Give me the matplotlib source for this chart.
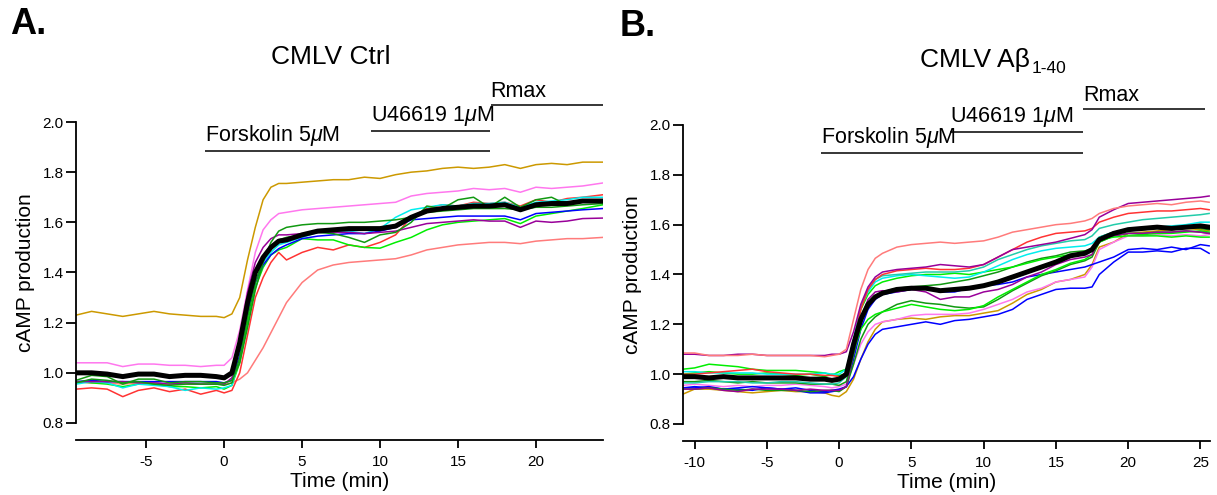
import numpy as np
import matplotlib
matplotlib.use("Agg")
import matplotlib.pyplot as plt

plt.rcParams['font.family'] = ['Liberation Sans', 'DejaVu Sans']
plt.rcParams['mathtext.fontset'] = 'custom'
plt.rcParams['mathtext.rm'] = 'Liberation Sans'
plt.rcParams['mathtext.it'] = 'Liberation Sans:italic'
plt.rcParams['axes.unicode_minus'] = False  # plain hyphen for negative ticks

# ---------------- panel A : CMLV Ctrl ----------------
t_ctrl = [-9.5, -8.5, -7.5, -6.5, -5.5, -4.5, -3.5, -2.5, -1.5, -0.5, 0,
          0.5, 1, 1.5, 2, 2.5, 3, 3.5, 4,
          5, 6, 7, 8, 9, 10, 11, 12, 13, 14, 15, 16, 17, 18, 19, 20, 21, 22, 23, 24.3]

ctrl_gold = [1.23, 1.245, 1.235, 1.225, 1.235, 1.245, 1.235, 1.23, 1.225, 1.225, 1.22,
             1.235, 1.30, 1.45, 1.58, 1.69, 1.74, 1.755, 1.755,
             1.76, 1.765, 1.77, 1.77, 1.78, 1.775, 1.79, 1.80, 1.805, 1.815, 1.82, 1.815, 1.82, 1.83, 1.815, 1.83, 1.835, 1.83, 1.84, 1.84]
ctrl_pink = [1.04, 1.04, 1.04, 1.025, 1.035, 1.035, 1.03, 1.03, 1.025, 1.03, 1.03,
             1.06, 1.17, 1.33, 1.48, 1.57, 1.61, 1.635, 1.64,
             1.65, 1.655, 1.66, 1.665, 1.67, 1.675, 1.68, 1.705, 1.715, 1.72, 1.725, 1.735, 1.73, 1.735, 1.72, 1.74, 1.735, 1.74, 1.745, 1.757]
ctrl_dgreen1 = [0.97, 0.99, 0.985, 0.955, 0.975, 0.975, 0.96, 0.965, 0.965, 0.96, 0.96,
                0.97, 1.04, 1.18, 1.33, 1.44, 1.52, 1.565, 1.58,
                1.59, 1.595, 1.595, 1.60, 1.60, 1.605, 1.61, 1.62, 1.64, 1.645, 1.65, 1.655, 1.655, 1.655, 1.65, 1.66, 1.66, 1.665, 1.67, 1.675]
ctrl_dgreen2 = [0.96, 0.975, 0.97, 0.96, 0.965, 0.955, 0.95, 0.955, 0.955, 0.955, 0.95,
                0.96, 1.06, 1.22, 1.36, 1.45, 1.50, 1.53, 1.54,
                1.55, 1.56, 1.555, 1.54, 1.52, 1.55, 1.56, 1.60, 1.665, 1.655, 1.69, 1.70, 1.66, 1.70, 1.66, 1.69, 1.70, 1.67, 1.69, 1.675]
ctrl_purple = [0.965, 0.965, 0.965, 0.965, 0.96, 0.96, 0.955, 0.96, 0.955, 0.955, 0.955,
               0.98, 1.12, 1.32, 1.44, 1.50, 1.535, 1.55, 1.55,
               1.555, 1.56, 1.56, 1.56, 1.555, 1.56, 1.565, 1.58, 1.595, 1.60, 1.605, 1.61, 1.605, 1.605, 1.58, 1.605, 1.60, 1.605, 1.615, 1.617]
ctrl_blue = [0.965, 0.97, 0.965, 0.965, 0.965, 0.965, 0.965, 0.965, 0.965, 0.965, 0.96,
             0.97, 1.07, 1.24, 1.36, 1.43, 1.47, 1.495, 1.51,
             1.535, 1.545, 1.55, 1.555, 1.555, 1.565, 1.58, 1.61, 1.615, 1.62, 1.625, 1.625, 1.625, 1.625, 1.61, 1.635, 1.64, 1.645, 1.65, 1.655]
ctrl_cyan = [0.955, 0.965, 0.96, 0.94, 0.955, 0.95, 0.945, 0.93, 0.94, 0.935, 0.94,
             0.95, 1.06, 1.23, 1.36, 1.44, 1.48, 1.51, 1.52,
             1.54, 1.56, 1.565, 1.565, 1.555, 1.575, 1.62, 1.65, 1.66, 1.67, 1.665, 1.675, 1.675, 1.68, 1.66, 1.68, 1.685, 1.69, 1.70, 1.70]
ctrl_lime = [0.965, 0.96, 0.955, 0.945, 0.955, 0.955, 0.945, 0.945, 0.94, 0.945, 0.935,
             0.95, 1.04, 1.20, 1.34, 1.42, 1.47, 1.49, 1.50,
             1.535, 1.53, 1.53, 1.51, 1.50, 1.497, 1.52, 1.54, 1.57, 1.59, 1.60, 1.605, 1.61, 1.615, 1.595, 1.625, 1.635, 1.645, 1.655, 1.67]
ctrl_red = [0.935, 0.94, 0.935, 0.905, 0.93, 0.94, 0.925, 0.935, 0.915, 0.93, 0.92,
            0.93, 1.00, 1.15, 1.30, 1.38, 1.44, 1.48, 1.45,
            1.48, 1.50, 1.49, 1.51, 1.50, 1.52, 1.55, 1.62, 1.655, 1.67, 1.665, 1.68, 1.675, 1.68, 1.665, 1.69, 1.68, 1.695, 1.70, 1.71]
ctrl_salmon = [0.965, 0.96, 0.96, 0.955, 0.96, 0.96, 0.955, 0.955, 0.955, 0.955, 0.955,
               0.96, 0.975, 1.00, 1.05, 1.10, 1.16, 1.22, 1.28,
               1.36, 1.41, 1.43, 1.44, 1.445, 1.45, 1.455, 1.47, 1.49, 1.50, 1.51, 1.515, 1.52, 1.52, 1.515, 1.525, 1.53, 1.535, 1.535, 1.54]
ctrl_mean = [1.0, 1.0, 0.995, 0.985, 0.995, 0.995, 0.985, 0.99, 0.99, 0.985, 0.98,
             1.0, 1.12, 1.28, 1.40, 1.46, 1.50, 1.525, 1.53,
             1.55, 1.565, 1.57, 1.575, 1.575, 1.575, 1.585, 1.62, 1.645, 1.655, 1.66, 1.665, 1.665, 1.67, 1.65, 1.67, 1.675, 1.675, 1.685, 1.685]

# ---------------- panel B : CMLV Abeta 1-40 ----------------
t_abeta = [-10.8, -10, -9, -8, -7, -6, -5, -4, -3, -2, -1, -0.5, 0,
           0.5, 1, 1.5, 2, 2.5, 3,
           4, 5, 6, 7, 8, 9, 10, 11, 12, 13, 14, 15, 16, 17, 17.5, 18, 19, 20, 21, 22, 23, 24, 25, 25.6]

ab_salmon = [1.085, 1.085, 1.075, 1.075, 1.075, 1.08, 1.075, 1.075, 1.075, 1.075, 1.07, 1.075, 1.08,
             1.10, 1.22, 1.34, 1.42, 1.465, 1.485,
             1.51, 1.52, 1.525, 1.53, 1.525, 1.53, 1.535, 1.55, 1.57, 1.58, 1.59, 1.60, 1.605, 1.615, 1.625, 1.645, 1.665, 1.675, 1.68, 1.685, 1.68, 1.69, 1.695, 1.69]
ab_purple1 = [1.08, 1.08, 1.075, 1.075, 1.08, 1.08, 1.075, 1.075, 1.075, 1.075, 1.075, 1.08, 1.08,
              1.09, 1.17, 1.28, 1.35, 1.39, 1.41,
              1.42, 1.425, 1.43, 1.44, 1.435, 1.43, 1.44, 1.47, 1.50, 1.51, 1.52, 1.53, 1.545, 1.56, 1.58, 1.63, 1.66, 1.685, 1.69, 1.695, 1.70, 1.705, 1.71, 1.715]
ab_red = [1.0, 1.0, 1.005, 1.01, 1.015, 1.02, 1.01, 1.005, 1.0, 1.0, 0.995, 0.995, 0.99,
          1.0, 1.12, 1.26, 1.34, 1.38, 1.40,
          1.415, 1.42, 1.425, 1.42, 1.42, 1.425, 1.44, 1.47, 1.50, 1.53, 1.55, 1.565, 1.57, 1.575, 1.585, 1.61, 1.63, 1.645, 1.65, 1.655, 1.655, 1.66, 1.665, 1.66]
ab_turq = [0.965, 0.965, 0.97, 0.97, 0.97, 0.965, 0.965, 0.97, 0.97, 0.965, 0.96, 0.96, 0.965,
           0.99, 1.13, 1.27, 1.34, 1.38, 1.395,
           1.40, 1.405, 1.41, 1.41, 1.41, 1.415, 1.43, 1.46, 1.48, 1.50, 1.515, 1.525, 1.535, 1.54, 1.555, 1.585, 1.60, 1.61, 1.62, 1.625, 1.63, 1.635, 1.64, 1.645]
ab_cyan = [1.01, 1.01, 1.005, 1.005, 1.005, 1.005, 1.0, 1.0, 1.0, 1.0, 1.005, 1.0, 1.0,
           1.02, 1.14, 1.27, 1.33, 1.37, 1.385,
           1.395, 1.40, 1.395, 1.39, 1.385, 1.39, 1.41, 1.435, 1.46, 1.48, 1.495, 1.505, 1.51, 1.515, 1.525, 1.55, 1.57, 1.58, 1.585, 1.59, 1.595, 1.60, 1.61, 1.61]
ab_lime1 = [1.02, 1.025, 1.04, 1.035, 1.03, 1.02, 1.015, 1.015, 1.015, 1.01, 1.005, 0.995, 1.01,
            1.02, 1.13, 1.26, 1.32, 1.355, 1.37,
            1.385, 1.395, 1.40, 1.40, 1.405, 1.40, 1.41, 1.42, 1.43, 1.445, 1.46, 1.47, 1.48, 1.485, 1.50, 1.54, 1.55, 1.555, 1.555, 1.555, 1.55, 1.555, 1.55, 1.55]
ab_lime2 = [1.0, 1.005, 1.01, 1.005, 1.0, 1.0, 1.005, 1.0, 0.995, 1.0, 0.99, 1.0, 0.995,
            1.0, 1.09, 1.18, 1.22, 1.24, 1.25,
            1.265, 1.28, 1.27, 1.26, 1.255, 1.26, 1.275, 1.31, 1.34, 1.37, 1.40, 1.42, 1.445, 1.46, 1.48, 1.53, 1.555, 1.565, 1.56, 1.565, 1.565, 1.57, 1.575, 1.57]
ab_dgreen1 = [0.97, 0.97, 0.975, 0.97, 0.965, 0.97, 0.965, 0.965, 0.965, 0.96, 0.96, 0.96, 0.955,
              0.97, 1.08, 1.20, 1.27, 1.31, 1.33,
              1.345, 1.35, 1.355, 1.36, 1.37, 1.38, 1.395, 1.41, 1.43, 1.45, 1.465, 1.475, 1.49, 1.495, 1.50, 1.55, 1.57, 1.58, 1.58, 1.585, 1.585, 1.59, 1.585, 1.58]
ab_dgreen2 = [0.94, 0.94, 0.945, 0.94, 0.935, 0.94, 0.935, 0.935, 0.935, 0.93, 0.935, 0.935, 0.93,
              0.95, 1.04, 1.14, 1.20, 1.23, 1.25,
              1.28, 1.295, 1.285, 1.28, 1.27, 1.265, 1.27, 1.30, 1.335, 1.365, 1.395, 1.415, 1.44, 1.455, 1.47, 1.53, 1.555, 1.565, 1.565, 1.57, 1.57, 1.575, 1.57, 1.565]
ab_purple2 = [0.94, 0.94, 0.945, 0.935, 0.93, 0.94, 0.94, 0.94, 0.935, 0.94, 0.935, 0.935, 0.935,
              0.95, 1.08, 1.22, 1.30, 1.33, 1.335,
              1.33, 1.34, 1.33, 1.30, 1.31, 1.31, 1.33, 1.34, 1.36, 1.39, 1.41, 1.44, 1.46, 1.47, 1.48, 1.54, 1.555, 1.565, 1.565, 1.57, 1.57, 1.575, 1.57, 1.565]
ab_blue1 = [0.945, 0.95, 0.945, 0.94, 0.945, 0.95, 0.945, 0.94, 0.945, 0.935, 0.93, 0.935, 0.94,
            0.95, 1.06, 1.18, 1.26, 1.30, 1.32,
            1.33, 1.34, 1.345, 1.33, 1.33, 1.345, 1.355, 1.36, 1.37, 1.39, 1.40, 1.41, 1.42, 1.43, 1.44, 1.45, 1.47, 1.50, 1.505, 1.50, 1.51, 1.50, 1.52, 1.515]
ab_blue2 = [0.945, 0.945, 0.95, 0.94, 0.94, 0.935, 0.945, 0.94, 0.935, 0.925, 0.925, 0.93, 0.935,
            0.95, 0.99, 1.06, 1.12, 1.16, 1.18,
            1.19, 1.20, 1.21, 1.20, 1.215, 1.22, 1.23, 1.24, 1.26, 1.30, 1.32, 1.34, 1.345, 1.345, 1.35, 1.40, 1.45, 1.49, 1.49, 1.495, 1.49, 1.505, 1.505, 1.485]
ab_pink = [0.955, 0.96, 0.955, 0.95, 0.955, 0.95, 0.955, 0.955, 0.96, 0.955, 0.95, 0.945, 0.95,
           0.96, 1.04, 1.12, 1.17, 1.20, 1.21,
           1.22, 1.235, 1.24, 1.24, 1.24, 1.245, 1.26, 1.28, 1.30, 1.33, 1.345, 1.37, 1.38, 1.39, 1.43, 1.50, 1.53, 1.555, 1.555, 1.56, 1.555, 1.56, 1.555, 1.56]
ab_gold = [0.92, 0.94, 0.94, 0.935, 0.93, 0.925, 0.93, 0.935, 0.93, 0.93, 0.925, 0.915, 0.91,
           0.93, 0.98, 1.06, 1.13, 1.18, 1.21,
           1.22, 1.225, 1.22, 1.23, 1.235, 1.235, 1.245, 1.255, 1.285, 1.32, 1.34, 1.37, 1.38, 1.40, 1.44, 1.51, 1.53, 1.565, 1.57, 1.575, 1.58, 1.585, 1.58, 1.575]
ab_mean = [0.99, 0.99, 0.985, 0.99, 0.985, 0.985, 0.985, 0.985, 0.985, 0.98, 0.98, 0.975, 0.98,
           1.0, 1.12, 1.22, 1.28, 1.31, 1.325,
           1.34, 1.345, 1.345, 1.335, 1.34, 1.345, 1.355, 1.37, 1.39, 1.41, 1.43, 1.45, 1.475, 1.485, 1.50, 1.54, 1.565, 1.58, 1.585, 1.59, 1.585, 1.59, 1.595, 1.59]

# colours of the individual cells
GOLD, PINK, DGREEN, PURPLE = '#cc9900', '#ff77ee', '#119911', '#990099'
BLUE, CYAN, LIME, RED = '#0000ff', '#00eeee', '#00ee00', '#ff3333'
SALMON, TURQ = '#ff7b7b', '#22ccaa'

ctrl_traces = [(ctrl_salmon, SALMON), (ctrl_gold, GOLD), (ctrl_pink, PINK),
               (ctrl_red, RED), (ctrl_lime, LIME), (ctrl_cyan, CYAN), (ctrl_blue, BLUE),
               (ctrl_purple, PURPLE), (ctrl_dgreen1, DGREEN), (ctrl_dgreen2, DGREEN)]
abeta_traces = [(ab_gold, GOLD), (ab_pink, PINK), (ab_blue2, BLUE), (ab_blue1, BLUE),
                (ab_dgreen2, DGREEN), (ab_lime2, LIME), (ab_purple2, PURPLE),
                (ab_dgreen1, DGREEN), (ab_lime1, LIME), (ab_cyan, CYAN), (ab_turq, TURQ),
                (ab_red, RED), (ab_purple1, PURPLE), (ab_salmon, SALMON)]


def draw_panel(ax, t, traces, mean, xlim, xticks, bars):
    for y, c in traces:
        ax.plot(t, y, color=c, lw=1.1)
    ax.plot(t, mean, color='black', lw=3.6, solid_joinstyle='round')
    ax.set_xlim(*xlim)
    ax.set_ylim(0.8, 2.0)
    ax.set_xticks(xticks)
    ax.set_yticks([0.8, 1.0, 1.2, 1.4, 1.6, 1.8, 2.0])
    ax.yaxis.set_major_formatter(matplotlib.ticker.FormatStrFormatter('%.1f'))
    for s in ['top', 'right']:
        ax.spines[s].set_visible(False)
    ax.spines['bottom'].set_position(('outward', 12))
    ax.spines['left'].set_bounds(0.8, 2.0)
    ax.spines['left'].set_linewidth(1.3)
    ax.spines['bottom'].set_linewidth(1.3)
    ax.tick_params(axis='y', direction='out', length=7, width=1.3, labelsize=11, pad=2)
    ax.tick_params(axis='x', direction='out', length=6, width=1.3, labelsize=11, pad=5)
    ax.set_ylabel('cAMP production', fontsize=15, labelpad=5)
    ax.set_xlabel('Time (min)', fontsize=15, labelpad=2)
    ax.patch.set_visible(False)
    # drug application bars
    for label, x0, x1, y in bars:
        ax.hlines(y, x0, x1, color='black', lw=1.1, clip_on=False)
        ax.text(x0, y + 0.012, label, fontsize=15.5, ha='left', va='bottom', clip_on=False)


fig = plt.figure(figsize=(12.17, 4.95), dpi=100)
axA = fig.add_axes([76 / 1217, 1 - 423 / 495, 527 / 1217, 301 / 495])
axB = fig.add_axes([683 / 1217, 1 - 424 / 495, 527 / 1217, 299 / 495])

draw_panel(axA, t_ctrl, ctrl_traces, ctrl_mean, (-9.5, 24.3), [-5, 0, 5, 10, 15, 20],
           [('Forskolin 5$\\mu$M', -1.2, 17.05, 1.884),
            ('U46619 1$\\mu$M', 9.4, 17.05, 1.964),
            ('Rmax', 17.1, 24.3, 2.068)])
draw_panel(axB, t_abeta, abeta_traces, ab_mean, (-10.8, 25.66), [-10, -5, 0, 5, 10, 15, 20, 25],
           [('Forskolin 5$\\mu$M', -1.24, 16.87, 1.888),
            ('U46619 1$\\mu$M', 7.68, 16.87, 1.972),
            ('Rmax', 16.87, 25.3, 2.064)])

# titles and panel letters
fig.text(331 / 1217, 1 - 57 / 495, 'CMLV Ctrl', fontsize=19, ha='center', va='center')
title_b = fig.text(920 / 1217, 1 - 60 / 495, 'CMLV A\u03b2', fontsize=19, ha='left', va='center')
axB.annotate('1-40', xy=(1, 0), xycoords=title_b, xytext=(1, -3),
             textcoords='offset points', fontsize=12.5, ha='left', va='bottom')
fig.text(10 / 1217, 1 - 24 / 495, 'A.', fontsize=26, fontweight='bold', ha='left', va='center')
fig.text(620 / 1217, 1 - 26 / 495, 'B.', fontsize=26, fontweight='bold', ha='left', va='center')

plt.savefig('out.png', dpi=100)
